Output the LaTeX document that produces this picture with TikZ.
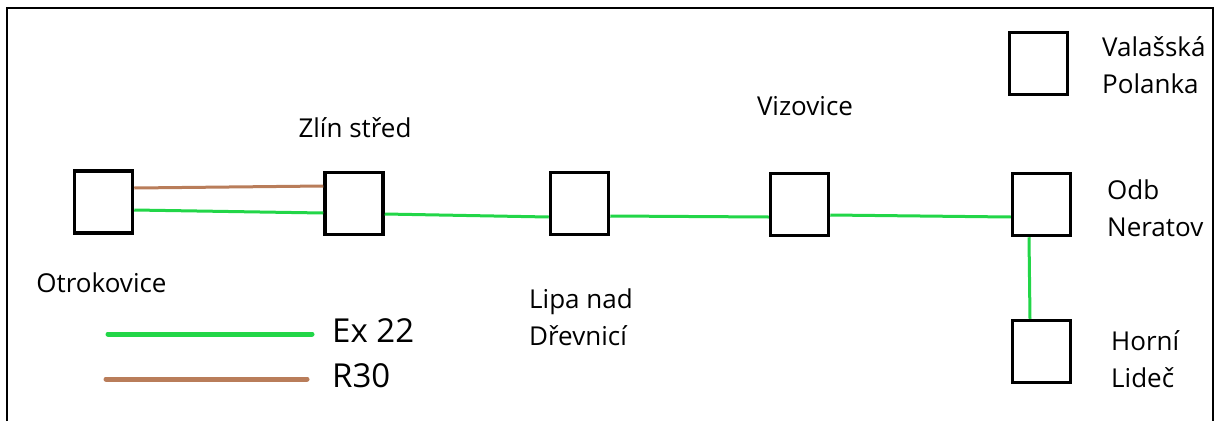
\documentclass[tikz,border=0pt]{standalone}
\usepackage{fontspec}
\setmainfont{Open Sans}
\usetikzlibrary{positioning}

\definecolor{exgreen}{RGB}{34,214,72}
\definecolor{rbrown}{RGB}{185,125,90}

\begin{document}
\begin{tikzpicture}[x=1pt,y=-1pt,
stn/.style={draw,line width=3.5pt,minimum width=58pt,minimum height=62pt,inner sep=0pt},
lbl/.style={align=left,inner sep=0pt,font=\fontsize{26}{37}\selectfont},
keylbl/.style={anchor=base west,inner sep=0pt,font=\fontsize{33}{40}\selectfont},
exline/.style={exgreen,line width=3pt},
rline/.style={rbrown,line width=3pt},
keyline/.style={line width=5pt,line cap=round}]
\useasboundingbox (0,0) rectangle (1224,421);
\draw[line width=2pt] (7,421) -- (7,8) -- (1213,8) -- (1213,421);
% stations
\node[stn](otr) at (103.5,202) {};
\node[stn](zlin) at (354,203.5) {};
\node[stn](lipa) at (579.5,203.5) {};
\node[stn](viz) at (799.5,204.5) {};
\node[stn](valpol) at (1038.5,63.5) {};
\node[stn](odb) at (1041.5,204.5) {};
\node[stn](lidec) at (1041.5,351.5) {};
% names (base = last line)
\node[lbl,anchor=base](otrlbl) at (101.5,292) {Otrokovice};
\node[lbl,anchor=base](zlinlbl) at (355,137) {Zlín střed};
\node[lbl,anchor=base west](lipalbl) at (529,345) {Lipa nad\\Dřevnicí};
\node[lbl,anchor=base](vizlbl) at (805,115) {Vizovice};
\node[lbl,anchor=base west](valpollbl) at (1102,93) {Valašská\\Polanka};
\node[lbl,anchor=base west](odblbl) at (1107,236) {Odb\\Neratov};
\node[lbl,anchor=base west](lideclbl) at (1111,387) {Horní\\Lideč};
% lines
\draw[rline]([yshift=14pt]otr.east)--([yshift=17.5pt]zlin.west);
\draw[exline]([yshift=-8pt]otr.east)--([yshift=-9.5pt]zlin.west);
\draw[exline]([yshift=-10.5pt]zlin.east)--([yshift=-13.5pt]lipa.west);
\draw[exline]([yshift=-12.5pt]lipa.east)--([yshift=-12.5pt]viz.west);
\draw[exline]([yshift=-10.5pt]viz.east)--([yshift=-12.5pt]odb.west);
\draw[exline]([xshift=-12.5pt]odb.south)--([xshift=-11.5pt]lidec.north);
% key
\coordinate(exa) at (108,334);\coordinate(exb) at (312,334);
\coordinate(ra) at (106,379);\coordinate(rb) at (307,379);
\draw[exline,keyline](exa)--(exb);
\draw[rline,keyline](ra)--(rb);
\node[keylbl](exkey) at (332,342) {Ex 22};
\node[keylbl](rkey) at (332,387) {R30};
\end{tikzpicture}
\end{document}
